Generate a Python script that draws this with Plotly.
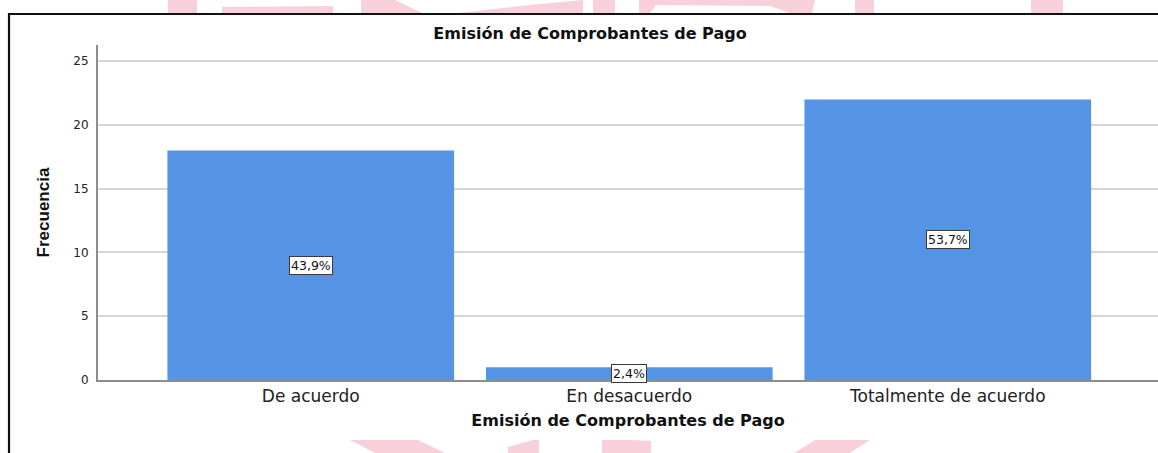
import plotly.graph_objects as go

# ---- data ----
categories = ["De acuerdo", "En desacuerdo", "Totalmente de acuerdo"]
counts = [18, 1, 22]
y_tick_vals = [0, 5, 10, 15, 20, 25]
chart_title = "Emisión de Comprobantes de Pago"
x_title = "Emisión de Comprobantes de Pago"
y_title = "Frecuencia"

total = sum(counts)
pct_labels = [f"{c / total * 100:.1f}%".replace(".", ",") for c in counts]

# ---- layout geometry (pixels) ----
W, H = 1158, 453
L, R, T, B = 98, 0, 45, 73
PW, PH = W - L - R, H - T - B


def px(x):
    return (x - L) / PW


def py(y):
    return (H - B - y) / PH


BAR_COLOR = "#5594e4"
PINK = "rgba(246,196,209,0.8)"

fig = go.Figure(
    go.Bar(
        x=categories,
        y=counts,
        width=0.9,
        marker=dict(color=BAR_COLOR, line=dict(width=0)),
        hoverinfo="x+y",
    )
)

annotations = []
for cat, c, lab in zip(categories, counts, pct_labels):
    annotations.append(
        dict(
            x=cat, y=c / 2, xref="x", yref="y", text=lab, showarrow=False,
            font=dict(family="DejaVu Sans", size=12.5, color="#111"),
            bgcolor="white", bordercolor="#3a3a3a", borderwidth=1, borderpad=1,
        )
    )

shapes = []
# watermark fragments (decorative, outside the chart)
wm_polys = [
    [(168, 0), (197, 0), (197, 13), (168, 13)],
    [(222, 7), (333, 6), (333, 13), (222, 13)],
    [(361, 0), (395, 0), (422, 13), (361, 13)],
    [(459, 13), (520, 6), (583, 0), (583, 13)],
    [(593, 0), (615, 0), (615, 13), (593, 13)],
    [(639, 0), (815, 0), (812, 13), (790, 13), (770, 6), (656, 5), (650, 13), (639, 13)],
    [(855, 0), (874, 0), (874, 13), (855, 13)],
    [(1031, 0), (1063, 0), (1063, 13), (1031, 13)],
    [(350, 440), (418, 440), (445, 453), (375, 453)],
    [(508, 447), (533, 440), (539, 440), (539, 453), (508, 453)],
    [(602, 440), (630, 440), (651, 441), (651, 453), (602, 453)],
    [(815, 440), (870, 440), (850, 453), (794, 453)],
]
for poly in wm_polys:
    path = "M " + " L ".join(f"{px(x):.5f},{py(y):.5f}" for x, y in poly) + " Z"
    shapes.append(dict(type="path", xref="paper", yref="paper", path=path,
                       fillcolor=PINK, line=dict(width=0), layer="above"))

# black frame (left and top edges)
frame_path = f"M {px(9):.5f},{py(460):.5f} L {px(9):.5f},{py(14):.5f} L {px(1170):.5f},{py(14):.5f}"
shapes.append(dict(type="path", xref="paper", yref="paper", path=frame_path,
                   line=dict(color="#111", width=2.2), layer="above"))

fig.update_layout(
    width=W, height=H,
    margin=dict(l=L, r=R, t=T, b=B, pad=0),
    paper_bgcolor="white", plot_bgcolor="white",
    showlegend=False,
    bargap=0.1,
    title=dict(
        text=chart_title, x=590 / W, xref="container", xanchor="center",
        y=1 - 33 / H, yref="container", yanchor="middle",
        font=dict(family="DejaVu Sans", size=16, color="#111", weight="bold"),
    ),
    xaxis=dict(
        range=[-0.668, 2.66], showgrid=False, showline=True,
        linecolor="#8c8c8c", linewidth=2, ticks="", zeroline=False,
        tickfont=dict(family="DejaVu Sans", size=17, color="#222"),
        title=dict(text=x_title, standoff=9,
                   font=dict(family="DejaVu Sans", size=16, color="#111", weight="bold")),
    ),
    yaxis=dict(
        range=[0, 26.27], tickvals=y_tick_vals, showgrid=True,
        gridcolor="#d6d6d6", gridwidth=1.5, showline=True, linecolor="#8c8c8c",
        linewidth=2, ticks="", zeroline=False, ticklabelstandoff=5,
        tickfont=dict(family="DejaVu Sans", size=12, color="#222"),
        title=dict(text=y_title, standoff=19,
                   font=dict(family="Liberation Sans, Arial, sans-serif",
                             size=17, color="#111", weight="bold")),
    ),
    annotations=annotations,
    shapes=shapes,
)

fig.write_html(
    "out.html",
    config={"displayModeBar": False},
    post_script="document.body.style.margin='0';document.body.style.overflow='hidden';",
)
